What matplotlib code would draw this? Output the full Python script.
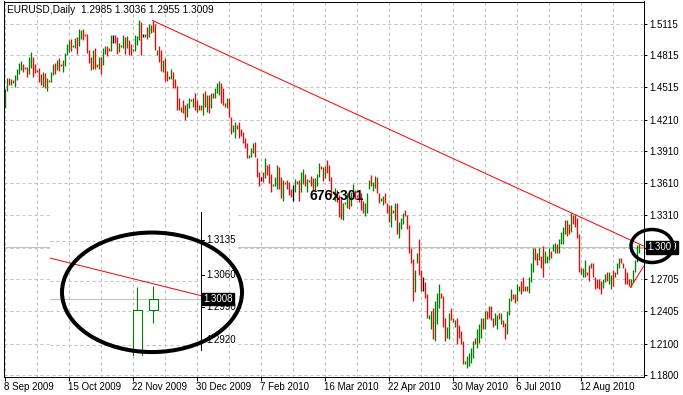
import matplotlib
matplotlib.use("Agg")
import matplotlib.pyplot as plt
import matplotlib.transforms as mtransforms
from matplotlib.patches import Ellipse, Rectangle
import pandas as pd

plt.rcParams['font.family'] = ['Liberation Sans', 'DejaVu Sans']

# broker calendar: sunday bars, no saturdays, closed 25 Dec and 1 Jan
days = [d for d in pd.date_range('2009-09-08', '2010-09-15')
        if d.weekday() != 5 and d.strftime('%m-%d') not in ('12-25', '01-01')]

# daily bars, one line per week (Sun..Fri)
highs = [
    1.4500, 1.4600, 1.4600, 1.4590,
    1.4580, 1.4630, 1.4685, 1.4745, 1.4765, 1.4735,
    1.4705, 1.4710, 1.4800, 1.4842, 1.4795, 1.4735,
    1.4680, 1.4700, 1.4640, 1.4660, 1.4650, 1.4600,
    1.4585, 1.4660, 1.4730, 1.4745, 1.4775, 1.4786,
    1.4735, 1.4770, 1.4840, 1.4925, 1.4960, 1.4970,
    1.4910, 1.4975, 1.4990, 1.5060, 1.5050, 1.5060,
    1.5020, 1.5020, 1.4870, 1.4800, 1.4870, 1.4880,
    1.4730, 1.4800, 1.4800, 1.4880, 1.4900, 1.4905,
    1.4880, 1.5010, 1.5010, 1.5010, 1.4990, 1.4930,
    1.4915, 1.5010, 1.4990, 1.5000, 1.4960, 1.4920,
    1.4875, 1.5010, 1.5000, 1.5144, 1.5130, 1.5020,
    1.5020, 1.5078, 1.5110, 1.5105, 1.5143, 1.5110,
    1.4870, 1.4899, 1.4861, 1.4767, 1.4786, 1.4672,
    1.4625, 1.4691, 1.4654, 1.4597, 1.4531, 1.4418,
    1.4324, 1.4390, 1.4343, 1.4362, 1.4418,
    1.4400, 1.4418, 1.4456, 1.4390, 1.4343,
    1.4343, 1.4456, 1.4484, 1.4437, 1.4437, 1.4456,
    1.4456, 1.4503, 1.4550, 1.4578, 1.4550, 1.4512,
    1.4362, 1.4409, 1.4409, 1.4230, 1.4155, 1.4183,
    1.4155, 1.4183, 1.4126, 1.4089, 1.4041, 1.3994,
    1.3872, 1.3945, 1.3990, 1.4000, 1.3853, 1.3712,
    1.3665, 1.3720, 1.3844, 1.3780, 1.3790, 1.3700,
    1.3600, 1.3670, 1.3778, 1.3760, 1.3665, 1.3637,
    1.3620, 1.3640, 1.3620, 1.3560, 1.3590, 1.3650,
    1.3630, 1.3640, 1.3712, 1.3740, 1.3700, 1.3650,
    1.3640, 1.3680, 1.3660, 1.3660, 1.3700, 1.3797,
    1.3770, 1.3760, 1.3770, 1.3830, 1.3780, 1.3670,
    1.3540, 1.3570, 1.3550, 1.3500, 1.3460, 1.3420,
    1.3435, 1.3520, 1.3500, 1.3530, 1.3600, 1.3550,
    1.3500, 1.3540, 1.3520, 1.3440, 1.3420, 1.3520,
    1.3640, 1.3684, 1.3618, 1.3680, 1.3665, 1.3514,
    1.3476, 1.3495, 1.3514, 1.3429, 1.3401, 1.3401,
    1.3354, 1.3420, 1.3420, 1.3241, 1.3279, 1.3335,
    1.3354, 1.3307, 1.3213, 1.2996, 1.2900, 1.2789,
    1.2949, 1.3090, 1.2789, 1.2723, 1.2676, 1.2572,
    1.2365, 1.2412, 1.2440, 1.2506, 1.2581, 1.2666,
    1.2581, 1.2553, 1.2346, 1.2252, 1.2393, 1.2440,
    1.2346, 1.2318, 1.2346, 1.2271, 1.2223, 1.2129,
    1.1941, 1.1988, 1.2016, 1.2063, 1.2129, 1.2157,
    1.2242, 1.2289, 1.2346, 1.2346, 1.2412, 1.2412,
    1.2459, 1.2459, 1.2346, 1.2393, 1.2365, 1.2384,
    1.2384, 1.2318, 1.2299, 1.2412, 1.2534, 1.2619,
    1.2572, 1.2572, 1.2666, 1.2647, 1.2694, 1.2723,
    1.2647, 1.2647, 1.2723, 1.2864, 1.3005, 1.3005,
    1.2949, 1.2996, 1.2930, 1.3024, 1.2977, 1.2930,
    1.2996, 1.2977, 1.3043, 1.3052, 1.3043, 1.3090,
    1.3147, 1.3194, 1.3260, 1.3260, 1.3231, 1.3335,
    1.3307, 1.3307, 1.3279, 1.3137, 1.2817, 1.2808,
    1.2883, 1.2770, 1.2836, 1.2855, 1.2855, 1.2723,
    1.2713, 1.2713, 1.2694, 1.2713, 1.2760, 1.2770,
    1.2770, 1.2742, 1.2789, 1.2770, 1.2864, 1.2902,
    1.2902, 1.2864, 1.2808, 1.2770, 1.2713, 1.2713,
    1.2789, 1.2883, 1.3033, 1.3036,
]
lows = [
    1.4320, 1.4480, 1.4540, 1.4535,
    1.4555, 1.4520, 1.4580, 1.4640, 1.4680, 1.4660,
    1.4685, 1.4610, 1.4635, 1.4700, 1.4610, 1.4645,
    1.4655, 1.4560, 1.4540, 1.4520, 1.4510, 1.4480,
    1.4565, 1.4560, 1.4630, 1.4640, 1.4680, 1.4672,
    1.4715, 1.4660, 1.4715, 1.4820, 1.4850, 1.4855,
    1.4890, 1.4880, 1.4830, 1.4900, 1.4970, 1.4960,
    1.5000, 1.4840, 1.4740, 1.4680, 1.4690, 1.4690,
    1.4705, 1.4690, 1.4640, 1.4720, 1.4830, 1.4810,
    1.4860, 1.4860, 1.4930, 1.4935, 1.4830, 1.4850,
    1.4895, 1.4880, 1.4830, 1.4880, 1.4820, 1.4820,
    1.4855, 1.4860, 1.4910, 1.4960, 1.4820, 1.4985,
    1.4990, 1.4965, 1.4990, 1.5030, 1.5035, 1.4870,
    1.4814, 1.4748, 1.4672, 1.4654, 1.4578, 1.4578,
    1.4597, 1.4597, 1.4503, 1.4503, 1.4296, 1.4296,
    1.4277, 1.4268, 1.4202, 1.4230, 1.4315,
    1.4385, 1.4324, 1.4296, 1.4277, 1.4296,
    1.4296, 1.4249, 1.4324, 1.4277, 1.4268, 1.4315,
    1.4418, 1.4409, 1.4456, 1.4437, 1.4362, 1.4352,
    1.4333, 1.4315, 1.4230, 1.4079, 1.4089, 1.4032,
    1.4126, 1.4032, 1.4060, 1.3985, 1.3938, 1.3853,
    1.3844, 1.3855, 1.3900, 1.3860, 1.3665, 1.3580,
    1.3636, 1.3620, 1.3660, 1.3690, 1.3610, 1.3530,
    1.3580, 1.3580, 1.3560, 1.3560, 1.3467, 1.3440,
    1.3600, 1.3560, 1.3500, 1.3480, 1.3440, 1.3530,
    1.3600, 1.3440, 1.3530, 1.3600, 1.3580, 1.3530,
    1.3620, 1.3580, 1.3540, 1.3550, 1.3580, 1.3665,
    1.3745, 1.3630, 1.3660, 1.3710, 1.3630, 1.3490,
    1.3515, 1.3440, 1.3430, 1.3290, 1.3270, 1.3260,
    1.3415, 1.3380, 1.3370, 1.3400, 1.3480, 1.3460,
    1.3480, 1.3430, 1.3354, 1.3330, 1.3300, 1.3330,
    1.3560, 1.3589, 1.3542, 1.3570, 1.3514, 1.3429,
    1.3448, 1.3401, 1.3420, 1.3335, 1.3241, 1.3194,
    1.3326, 1.3260, 1.3137, 1.3099, 1.3184, 1.3231,
    1.3300, 1.3184, 1.2949, 1.2855, 1.2506, 1.2590,
    1.2855, 1.2742, 1.2600, 1.2600, 1.2534, 1.2346,
    1.2336, 1.2242, 1.2148, 1.2129, 1.2289, 1.2440,
    1.2534, 1.2252, 1.2129, 1.2157, 1.2148, 1.2318,
    1.2300, 1.2252, 1.2101, 1.2157, 1.2101, 1.1912,
    1.1912, 1.1866, 1.1894, 1.1922, 1.1969, 1.2101,
    1.2063, 1.2110, 1.2157, 1.2242, 1.2242, 1.2336,
    1.2346, 1.2318, 1.2252, 1.2271, 1.2242, 1.2336,
    1.2289, 1.2252, 1.2148, 1.2195, 1.2365, 1.2506,
    1.2525, 1.2487, 1.2506, 1.2600, 1.2572, 1.2600,
    1.2600, 1.2600, 1.2581, 1.2676, 1.2770, 1.2883,
    1.2836, 1.2883, 1.2817, 1.2723, 1.2864, 1.2864,
    1.2883, 1.2911, 1.2977, 1.2958, 1.2958, 1.2958,
    1.3043, 1.3043, 1.3137, 1.3118, 1.3137, 1.3147,
    1.3231, 1.3194, 1.3099, 1.2770, 1.2760, 1.2723,
    1.2723, 1.2742, 1.2694, 1.2808, 1.2723, 1.2619,
    1.2628, 1.2619, 1.2572, 1.2628, 1.2676, 1.2694,
    1.2666, 1.2619, 1.2647, 1.2723, 1.2760, 1.2808,
    1.2855, 1.2817, 1.2666, 1.2666, 1.2647, 1.2630,
    1.2676, 1.2770, 1.2870, 1.2955,
]
# u = up bar, d = down bar, 0 = doji
moves = ("uudu" "duuuud" "dduudd" "dddudu" "duudud" "duuuud" "uuduud"
         "ddddud" "duduud" "du0ddu" "uududd" "uuuud0" "uduudd" "uddudd"
         "uudddd" "udduu" "duddu" "dududu" "duuudd" "dudduu" "dddddd"
         "uuuddd" "0duddd" "uuuddu" "dddd0u" "dduudu" "udduuu" "dduddd"
         "uudddu" "uuduud" "dddduu" "uduudd" "uudddu" "duduuu" "dddddu"
         "udd0dd" "uuduuu" "ddduud" "dudddd" "uuuuud" "uuudud" "ddduud"
         "udduuu" "dduudd" "uduuud" "dudduu" "uduudu" "uuuddu" "dddddu"
         "uddudd" "ddduud" "uudduu" "dddddu" "uuuu")

last_ohlc = [1.2985, 1.3036, 1.2955, 1.3009]
price_levels = [1.5115, 1.4815, 1.4515, 1.4210, 1.3910, 1.3610,
                1.3310, 1.3005, 1.2705, 1.2405, 1.2100, 1.1800]

# trend lines (bar index, price)
trend_a = [(74, 1.5143), (283, 1.3335)]
trend_b = [(313, 1.2630), (317, 1.2751)]

# zoomed copy of the last two candles
inset_open = [1.2875, 1.2985]
inset_close = [1.2985, 1.3009]
inset_levels = [1.3135, 1.3060, 1.2990, 1.2920]
inset_grid = [1.3133, 1.3048, 1.2981, 1.2909]
inset_bid = 1.3008

W, H = 683, 395
fig = plt.figure(figsize=(W / 100, H / 100), dpi=100)


def rect(l, t, r, b):
    return [l / W, 1 - b / H, (r - l) / W, (b - t) / H]


def ray(pts, x_end):
    (x0, y0), (x1, y1) = pts
    k = (y1 - y0) / (x1 - x0)
    return [x0, x_end], [y0, y0 + k * (x_end - x0)]


def line_at(pts, xs):
    (x0, y0), (x1, y1) = pts
    k = (y1 - y0) / (x1 - x0)
    return [y0 + k * (x - x0) for x in xs]


n = len(days)
assert n == len(highs) == len(lows) == len(moves)

ax = fig.add_axes(rect(3.5, 1.5, 643.5, 376.5))
ax.set_xlim(-0.5, 319.5)
ax.set_ylim(1.17905, 1.53222)

grid_kw = dict(color='#c0c0c0', lw=0.72, ls=(0, (3, 3)))
for p in price_levels:
    ax.axhline(p, zorder=1, **grid_kw)
ax.axhline(last_ohlc[3], color='#c0c0c0', lw=0.72, zorder=1.2)
# white backing of the pasted zoom picture
ax.add_patch(Rectangle((50 / W, 1 - 356 / H), 188 / W, 149 / H,
                       transform=fig.transFigure, fc='white', ec='none', zorder=1.5))
for i in range(0, 320, 16):
    ax.axvline(i, zorder=1.6, **grid_kw)

colors = {'u': '#008000', 'd': '#ff0000', '0': '#000000'}
ax.vlines(range(n), lows, highs, colors=[colors[m] for m in moves], lw=0.95, zorder=2)

xs, ys = ray(trend_a, 319.5)
ax.plot(xs, ys, color='#ff0000', lw=0.72, zorder=2.5)
xs, ys = ray(trend_b, 319.5)
ax.plot(xs, ys, color='#ff0000', lw=0.72, zorder=2.5)

ax.yaxis.tick_right()
ax.set_yticks(price_levels, [f'{p:.4f}' for p in price_levels])
ax.tick_params(axis='y', length=2.2, width=0.72, pad=2.2, labelsize=7)
ticks = list(range(0, n, 32))
ax.set_xticks(ticks, [f'{days[i].day} {days[i]:%b %Y}' for i in ticks])
ax.tick_params(axis='x', length=3, width=0.72, pad=1, labelsize=7)
for t in ax.get_xticklabels():
    t.set_ha('left')
for s in ax.spines.values():
    s.set_linewidth(0.72)

tr = mtransforms.blended_transform_factory(ax.transAxes, ax.transData)
ax.text(1 + 3.5 / 640, last_ohlc[3], f'{last_ohlc[3]:.4f}', transform=tr,
        color='white', fontsize=7, va='center', ha='left', clip_on=False, zorder=5,
        bbox=dict(boxstyle='square,pad=0.15', fc='black', ec='black'))

fig.text(7 / W, 1 - 10 / H, 'EURUSD,Daily  ' + ' '.join(f'{v:.4f}' for v in last_ohlc),
         fontsize=7.3, va='center', ha='left')

# inset: the last two candles zoomed in
ai = fig.add_axes(rect(50, 207, 201, 356))
ai.set_axis_off()
x_lo, x_hi = 310.53, 319.97
ai.set_xlim(x_lo, x_hi)
ai.set_ylim(1.28842, 1.32077)
for g in inset_grid:
    ai.axhline(g, **grid_kw)
ai.axhline(inset_bid, color='#c0c0c0', lw=0.72)
ai.plot([x_lo, x_hi], line_at(trend_a, [x_lo, x_hi]), color='#ff0000', lw=0.72)
for k in range(2):
    i = n - 2 + k
    o, c = inset_open[k], inset_close[k]
    ai.vlines(i, lows[i], highs[i], color='#008000', lw=0.8, zorder=2)
    ai.add_patch(Rectangle((i - 0.31, min(o, c)), 0.62, abs(c - o),
                           fc='white', ec='#008000', lw=0.8, zorder=3))
ai.plot([1, 1], [0.04, 0.966], transform=ai.transAxes, color='black', lw=0.72, clip_on=False)
ti = mtransforms.blended_transform_factory(ai.transAxes, ai.transData)
for p in inset_levels:
    ai.plot([1, 1 + 3 / 151], [p, p], transform=ti, color='black', lw=0.72, clip_on=False)
    ai.text(1 + 5 / 151, p, f'{p:.4f}', transform=ti, fontsize=7, va='center', clip_on=False)
ai.text(1 + 2.5 / 151, inset_bid, f'{inset_bid:.4f}', transform=ti, color='white',
        fontsize=7, va='center', clip_on=False, zorder=5,
        bbox=dict(boxstyle='square,pad=0.15', fc='black', ec='black'))

# hand drawn marks on top of the screenshot
ov = fig.add_axes([0, 0, 1, 1])
ov.set_axis_off()
ov.set_xlim(0, W)
ov.set_ylim(H, 0)
ov.add_patch(Ellipse((152, 292.3), 180, 119.5, fill=False, ec='black', lw=2.9))
ov.add_patch(Ellipse((652, 246), 42, 33, fill=False, ec='black', lw=2.5))
ov.text(309, 195.5, '676x301', fontsize=10, fontweight='bold', va='center', ha='left')

fig.savefig('out.png', dpi=100)
